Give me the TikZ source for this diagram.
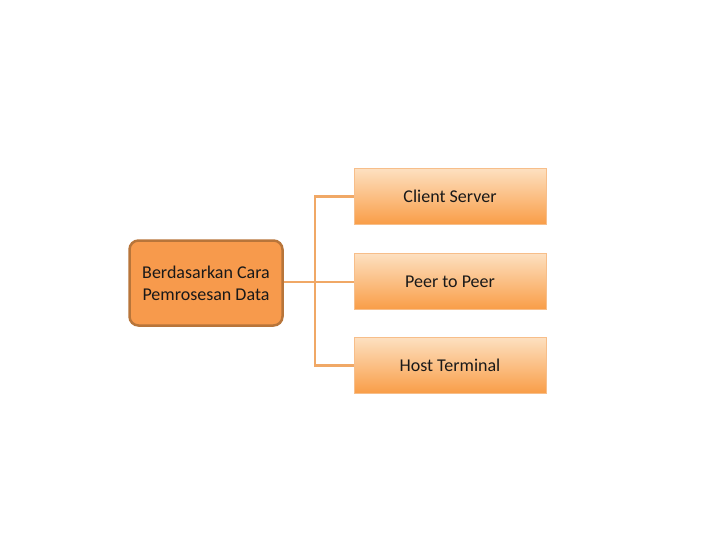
\documentclass[tikz,border=0pt]{standalone}
\usepackage{fontspec}
\setmainfont{Carlito}
\begin{document}
\begin{tikzpicture}[x=1pt,y=-1pt,
  leaf/.style={draw=leafedge, line width=0.8pt, minimum width=192pt, minimum height=56pt, inner sep=0pt, top color=leaftop, bottom color=leafbot, font=\fontsize{18}{22}\selectfont, text=black!90},
  rootbox/.style={draw=rootedge, line width=2.5pt, rounded corners=9pt, fill=rootfill, minimum width=153pt, minimum height=85pt, inner sep=0pt, align=center, font=\fontsize{18}{22}\selectfont, text=black!90},
  conn/.style={draw=connc, line width=2.6pt}]
\definecolor{leaftop}{HTML}{FDE0C0}
\definecolor{leafbot}{HTML}{F99D47}
\definecolor{leafedge}{HTML}{F7BE8A}
\definecolor{rootfill}{HTML}{F79A4C}
\definecolor{rootedge}{HTML}{B8753A}
\definecolor{connc}{HTML}{F0A866}
\useasboundingbox (0,0) rectangle (720,540);
\node[rootbox] (root) at (206,283) {Berdasarkan Cara\\Pemrosesan Data};
\node[leaf] (c) at (450,196.5) {Client Server};
\node[leaf] (p) at (450,281.5) {Peer to Peer};
\node[leaf] (h) at (450,365.5) {Host Terminal};
\coordinate (j) at (315,282);
\draw[conn] (root.east |- j) -- (j) -- (p.west |- j);
\draw[conn] (c.west) -- (315,196.5) -- (315,365.5) -- (h.west);
\end{tikzpicture}
\end{document}
